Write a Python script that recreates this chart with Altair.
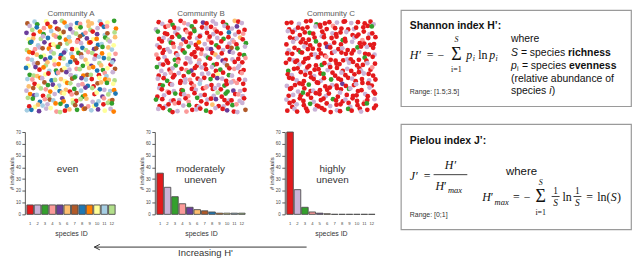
import altair as alt
import pandas as pd

# ---------------- data ----------------
SPECIES = [1, 2, 3, 4, 5, 6, 7, 8, 9, 10, 11, 12]
SPECIES_COLORS = ["#e31a1c", "#cab2d6", "#33a02c", "#fb9a99", "#6a3d9a", "#fdbf6f",
                  "#b15928", "#1f78b4", "#ff7f00", "#ffff99", "#a6cee3", "#b2df8a"]
COUNTS_A = [8, 8, 8, 8, 8, 8, 8, 8, 8, 8, 8, 8]
COUNTS_B = [35, 23, 15, 9, 6, 4, 3, 2, 1, 1, 1, 1]
COUNTS_C = [70, 21, 6, 2, 1, 0.5, 0, 0, 0, 0, 0, 0]
Y_TICKS = [0, 10, 20, 30, 40, 50, 60, 70]
COMMUNITY_TITLES = ["Community A", "Community B", "Community C"]
ANNOT_A = ["even"]
ANNOT_B = ["moderately", "uneven"]
ANNOT_C = ["highly", "uneven"]

# species map of each community plot (one character per individual, 1..9,a,b,c = species 1..12)
SPECIES_CODES = "123456789abc"
MAP_A = ["7b3a15c928466b1a3", "2c84917b5a36c2849", "5193b6a72c8415b7c", "a6c28439b175a93c6",
         "38b51a7c642918b2a", "c427963b1a8c5736b", "916a2c85b374c19a4", "4b358a1c97262b8c5",
         "a27c649b813a5c61b", "8519b37a24c6983a7", "3c6a18452b97c14b2", "b4928c6a735b1a96c",
         "61a735b9c2481763a", "27c49a8613b5c82b9", "95b1c26a47391a5c8", "c3847b59a1c62b467",
         "1a6b2938c754a81c3", "b852a4c16397b5a29"]
MAP_B = ["12131421512213612", "21412137121421251", "31121413212118214", "12213512141231261",
         "21314121921312413", "11242131125121732", "41212311421615213", "12131221431251214",
         "21134121213127121", "32121451212131421", "12412131221a13214", "21311241213521412",
         "13121214b21231241", "21421312141213521", "12131241212c13142", "31212143121512121",
         "12141231216121342", "21312412131215127"]
MAP_C = ["11211311121121112", "12111211411121113", "21113111211211121", "11211121113121411",
         "12111311211121111", "21121115112113121", "11311211121112112", "12111214111211311",
         "11211131211211121", "31121112111211214", "12111213112111211", "11211121311121121",
         "21113111215112111", "11211211111321121", "12131112112111211", "21111211311211412",
         "11213111211121131", "12111211121311211"]
JITTER_X = ["37190582461739025", "82046917352804619", "15738260947153826", "64921735081462937",
            "90357148263905174", "28613904756281340", "73048261593740268", "41976350824197653",
            "56280419367528091", "09634782150963427", "85172906438517802", "32809563714238956",
            "67451028396674013", "14986735203149785", "96023481657092348", "43765190842356671",
            "78310657924781530", "20597843169025894"]
JITTER_Y = ["62817304957261840", "09352681743095216", "48170952368417953", "75604138290576382",
            "31928765014328609", "86245019673864127", "13790482536139475", "57062934181750348",
            "94381657029493861", "20619873645208734", "68953210798667290", "45127649302541567",
            "93806571264892013", "71249085937014586", "36578302419630942", "02934618573298175",
            "89463127056874301", "54710896342153628"]

SANS = "Liberation Sans"
SERIF = "Liberation Serif"

color_scale = alt.Scale(domain=SPECIES, range=SPECIES_COLORS)


def community_frame(rows, jx, jy):
    recs = []
    for r, row in enumerate(rows):
        for c, ch in enumerate(row):
            recs.append({"col": c + (int(jx[r][c]) - 4.5) * 0.085,
                         "row": r + (int(jy[r][c]) - 4.5) * 0.085,
                         "species": SPECIES_CODES.index(ch) + 1})
    return pd.DataFrame(recs)


def text_at(s, x, y, size=10.5, weight="normal", style="normal", font=SANS, align="left", color="#111"):
    return alt.Chart(pd.DataFrame({"t": [s]})).mark_text(
        align=align, baseline="middle", fontSize=size, fontWeight=weight, fontStyle=style,
        font=font, color=color).encode(text="t:N", x=alt.value(x), y=alt.value(y))


def hline(x1, x2, y, color="#111", w=0.8):
    return alt.Chart(pd.DataFrame({"a": [0]})).mark_rule(color=color, strokeWidth=w).encode(
        x=alt.value(x1), x2=alt.value(x2), y=alt.value(y))


def scatter(df, title):
    pts = alt.Chart(df).mark_circle(size=23, opacity=1).encode(
        x=alt.X("col:Q", scale=alt.Scale(domain=[-0.6, 16.6], nice=False, zero=False), axis=None),
        y=alt.Y("row:Q", scale=alt.Scale(domain=[-2.5, 17.6], nice=False, zero=False, reverse=True),
                axis=None),
        color=alt.Color("species:O", scale=color_scale, legend=None),
    )
    ttl = text_at(title, 46.5, 4, size=8, align="center", color="#5a5a5a")
    return alt.layer(pts, ttl).properties(width=93, height=104)


def bars(counts, annot, ax):
    df = pd.DataFrame({"species": SPECIES, "count": counts})
    b = alt.Chart(df).mark_bar(stroke="#4d4d4d", strokeWidth=0.9).encode(
        x=alt.X("species:O", scale=alt.Scale(paddingInner=0.12, paddingOuter=0.27),
                axis=alt.Axis(title="species ID", labelAngle=0, labelFontSize=4.2, ticks=False,
                              domain=False, labelPadding=7, labelColor="#444", titleFontSize=7,
                              titleFontWeight="normal", titleColor="#333", titlePadding=4,
                              titleFont=SANS, labelFont=SANS)),
        y=alt.Y("count:Q", scale=alt.Scale(domain=[0, 70], nice=False),
                axis=alt.Axis(values=Y_TICKS, title="# individuals", grid=False, tickSize=3,
                              tickColor="#333", domainColor="#333", domainWidth=0.8, tickWidth=0.8,
                              labelFontSize=4.5, labelColor="#444", labelPadding=1.5,
                              titleFontSize=6, titleFontWeight="normal", titleColor="#333",
                              titlePadding=1, titleFont=SANS, labelFont=SANS)),
        color=alt.Color("species:O", scale=color_scale, legend=None),
    ).properties(width=93, height=83)
    layers = [b]
    for i, s in enumerate(annot):
        layers.append(text_at(s, ax, 37 + 11.5 * i, size=10, align="center", color="#333"))
    return alt.layer(*layers)


# ---------------- community columns ----------------
maps = [MAP_A, MAP_B, MAP_C]
jitters = [(JITTER_X, JITTER_Y), (JITTER_Y, JITTER_X), (JITTER_X[::-1], JITTER_Y[::-1])]
counts = [COUNTS_A, COUNTS_B, COUNTS_C]
annots = [ANNOT_A, ANNOT_B, ANNOT_C]
annot_x = [43, 46, 48]

cols = []
for k in range(3):
    sc = scatter(community_frame(maps[k], *jitters[k]), COMMUNITY_TITLES[k])
    br = bars(counts[k], annots[k], annot_x[k])
    cols.append(alt.vconcat(sc, br, spacing=19, bounds="flush"))

cols_row = alt.hconcat(*cols, spacing=19)

arrow = alt.layer(
    hline(70, 284, 10, color="#333", w=1),
    alt.Chart(pd.DataFrame({"a": [0]})).mark_point(
        shape="M1,-1L-1,0L1,1", filled=False, size=30, color="#333", strokeWidth=1, opacity=1).encode(
        x=alt.value(72.8), y=alt.value(10)),
    text_at("Increasing H'", 182, 16, size=9.5, align="center", color="#333"),
).properties(width=360, height=20)

left = alt.vconcat(cols_row, arrow, spacing=0)

# ---------------- formula boxes ----------------
BOX_VIEW = alt.ViewBackground(stroke="#9a9a9a", strokeWidth=1.2, fill="white")

shannon = alt.layer(
    text_at("Shannon index H\u2019:", 9, 16, weight="bold"),
    text_at("H\u2032", 9, 45, size=12, style="italic", font=SERIF),
    text_at("=", 26, 45, size=12, font=SERIF),
    text_at("\u2212", 37, 45, size=12, font=SERIF),
    text_at("\u03a3", 56, 45, size=18, font=SERIF, align="center"),
    text_at("S", 56, 30, size=8, style="italic", font=SERIF, align="center"),
    text_at("i=1", 56, 60.5, size=8, font=SERIF, align="center"),
    text_at("p", 66, 45, size=12, style="italic", font=SERIF),
    text_at("i", 72.5, 49, size=8, style="italic", font=SERIF),
    text_at("ln", 78, 45, size=12, font=SERIF),
    text_at("p", 89, 45, size=12, style="italic", font=SERIF),
    text_at("i", 95.5, 49, size=8, style="italic", font=SERIF),
    text_at("where", 111, 29),
    text_at("S", 111, 43, style="italic"),
    text_at("= species", 121, 43),
    text_at("richness", 168.5, 43, weight="bold"),
    text_at("p", 111, 56, style="italic"),
    text_at("i", 117, 59.5, size=7),
    text_at("= species", 122, 56),
    text_at("evenness", 169.5, 56, weight="bold"),
    text_at("(relative abundance of", 111, 70),
    text_at("species", 111, 82),
    text_at("i", 149.5, 82, style="italic"),
    text_at(")", 152, 82),
    text_at("Range: [1.5;3.5]", 9, 83, size=7, color="#333"),
).properties(width=232, height=97, view=BOX_VIEW)

pielou = alt.layer(
    text_at("Pielou index J\u2019:", 9, 17, weight="bold"),
    text_at("J\u2032", 9, 52, size=12, style="italic", font=SERIF),
    text_at("=", 23, 52, size=12, font=SERIF),
    text_at("H\u2032", 50, 41, size=12, style="italic", font=SERIF, align="center"),
    hline(33, 67, 51),
    text_at("H", 35, 62, size=12, style="italic", font=SERIF),
    text_at("\u2032", 43.5, 62, size=12, font=SERIF),
    text_at("max", 47.5, 66.5, size=8.5, style="italic", font=SERIF),
    text_at("where", 106, 48, size=11.5),
    text_at("H", 82, 74, size=12, style="italic", font=SERIF),
    text_at("\u2032", 90.5, 74, size=12, font=SERIF),
    text_at("max", 94.5, 78.5, size=8.5, style="italic", font=SERIF),
    text_at("=", 113, 74, size=12, font=SERIF),
    text_at("\u2212", 124, 74, size=12, font=SERIF),
    text_at("\u03a3", 141, 74, size=18, font=SERIF, align="center"),
    text_at("S", 141, 59, size=8, style="italic", font=SERIF, align="center"),
    text_at("i=1", 141, 89.5, size=8, font=SERIF, align="center"),
    text_at("1", 156, 67, size=9.5, font=SERIF, align="center"),
    hline(152, 160, 73),
    text_at("S", 156, 80, size=9.5, style="italic", font=SERIF, align="center"),
    text_at("ln", 163, 74, size=12, font=SERIF),
    text_at("1", 178, 67, size=9.5, font=SERIF, align="center"),
    hline(174, 182, 73),
    text_at("S", 178, 80, size=9.5, style="italic", font=SERIF, align="center"),
    text_at("=", 187, 74, size=12, font=SERIF),
    text_at("ln(", 198, 74, size=12, font=SERIF),
    text_at("S", 211.5, 74, size=12, style="italic", font=SERIF),
    text_at(")", 218, 74, size=12, font=SERIF),
    text_at("Range: [0;1]", 9, 92, size=7, color="#333"),
).properties(width=232, height=106, view=BOX_VIEW)

right = alt.vconcat(shannon, pielou, spacing=16)

chart = alt.hconcat(left, right, spacing=18).properties(padding=0).configure(
    font=SANS).configure_view(stroke=None)

chart.save("out.html", embed_options={"renderer": "svg", "actions": False})
